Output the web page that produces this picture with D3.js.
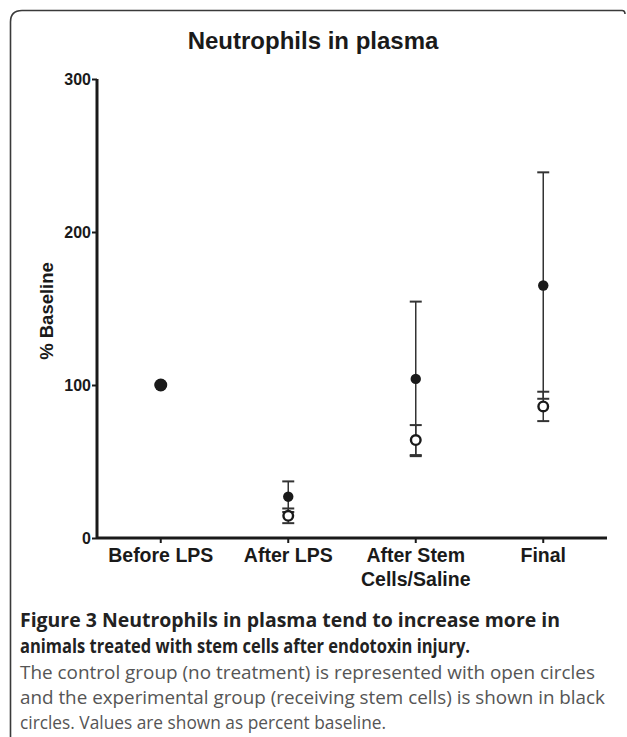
<!DOCTYPE html>
<html>
<head>
<meta charset="utf-8">
<script src="https://cdn.jsdelivr.net/npm/d3@7"></script>
<style>
  body { margin: 0; background: #fff; }
  svg { display: block; }
</style>
</head>
<body>
<svg id="chart" width="627" height="737"></svg>
<script>
// data
var categories = ['Before LPS', 'After LPS', 'After Stem|Cells/Saline', 'Final'];
var stemMean = [100, 27, 104, 165];
var stemSem = [0, 10, 50.5, 74];
var controlMean = [100, 14.5, 64, 86];
var controlSem = [0, 4.8, 9.8, 9.6];
var yTicks = [0, 100, 200, 300];

var captionBold = [
    'Figure 3 Neutrophils in plasma tend to increase more in',
    'animals treated with stem cells after endotoxin injury.'
];
var captionText = [
    'The control group (no treatment) is represented with open circles',
    'and the experimental group (receiving stem cells) is shown in black',
    'circles. Values are shown as percent baseline.'
];

var svg = d3.select('#chart');
var ink = '#1a1a1a';

// frame
svg.append('path')
    .attr('d', 'M 10.5 760 V 22 Q 10.5 10.5 22 10.5 H 622 Q 625 10.5 625 14')
    .attr('fill', 'none')
    .attr('stroke', '#3a3a3a')
    .attr('stroke-width', 1.6);

svg.append('text')
    .attr('x', 313)
    .attr('y', 49)
    .attr('text-anchor', 'middle')
    .attr('font-family', 'Liberation Sans, Arial, sans-serif')
    .attr('font-weight', 'bold')
    .attr('font-size', 24)
    .attr('fill', ink)
    .text('Neutrophils in plasma');

var x = d3.scaleBand()
    .domain(categories)
    .range([97, 607]);

var y = d3.scaleLinear()
    .domain([0, 300])
    .range([538, 79]);

var cx = function(i) { return x(categories[i]) + x.bandwidth() / 2; };

// y axis
var yAxis = svg.append('g')
    .attr('transform', 'translate(97,0)')
    .call(d3.axisLeft(y).tickValues(yTicks).tickSize(5).tickPadding(1));
yAxis.select('.domain').attr('stroke', ink).attr('stroke-width', 3)
    .attr('d', 'M0,' + y(300) + 'V' + y(0));
yAxis.selectAll('line').attr('stroke', ink).attr('stroke-width', 2);
yAxis.selectAll('text')
    .attr('font-family', 'Liberation Sans, Arial, sans-serif')
    .attr('font-weight', 'bold')
    .attr('font-size', 16)
    .attr('fill', ink);

// x axis
var xAxis = svg.append('g')
    .attr('transform', 'translate(0,' + y(0) + ')')
    .call(d3.axisBottom(x).tickSize(5).tickFormat(''));
xAxis.select('.domain').attr('stroke', ink).attr('stroke-width', 3)
    .attr('d', 'M97,0H607');
xAxis.selectAll('line').attr('stroke', ink).attr('stroke-width', 2);

xAxis.selectAll('.tick').append('text')
    .attr('fill', ink)
    .attr('font-family', 'Liberation Sans, Arial, sans-serif')
    .attr('font-weight', 'bold')
    .attr('font-size', 19.5)
    .attr('text-anchor', 'middle')
    .each(function(d) {
        var lines = d.split('|');
        var t = d3.select(this);
        lines.forEach(function(l, k) {
            t.append('tspan').attr('x', 0).attr('y', 24 + k * 24).text(l);
        });
    });

svg.append('text')
    .attr('transform', 'translate(53,311) rotate(-90)')
    .attr('text-anchor', 'middle')
    .attr('font-family', 'Liberation Sans, Arial, sans-serif')
    .attr('font-weight', 'bold')
    .attr('font-size', 18.5)
    .attr('fill', ink)
    .text('% Baseline');

// error bars
function errorBars(mean, sem, cls) {
    var g = svg.append('g').attr('class', cls);
    mean.forEach(function(m, i) {
        if (!sem[i]) return;
        var top = y(m + sem[i]), bot = y(m - sem[i]), c = cx(i);
        g.append('line').attr('x1', c).attr('x2', c).attr('y1', top).attr('y2', bot)
            .attr('stroke', '#333').attr('stroke-width', 1.5);
        [top, bot].forEach(function(v) {
            g.append('line').attr('x1', c - 6).attr('x2', c + 6).attr('y1', v).attr('y2', v)
                .attr('stroke', '#333').attr('stroke-width', 2);
        });
    });
}
errorBars(stemMean, stemSem, 'stem-err');
errorBars(controlMean, controlSem, 'ctrl-err');

svg.append('g').selectAll('circle')
    .data(controlMean)
    .join('circle')
    .attr('cx', function(d, i) { return cx(i); })
    .attr('cy', function(d) { return y(d); })
    .attr('r', 4.8)
    .attr('fill', '#fff')
    .attr('stroke', ink)
    .attr('stroke-width', 2.4);

svg.append('g').selectAll('circle')
    .data(stemMean)
    .join('circle')
    .attr('cx', function(d, i) { return cx(i); })
    .attr('cy', function(d) { return y(d); })
    .attr('r', function(d, i) { return i === 0 ? 6.5 : 5.2; })
    .attr('fill', ink);

// caption
var cap = svg.append('g').attr('font-family', 'Open Sans, sans-serif');
captionBold.forEach(function(t, i) {
    cap.append('text')
        .attr('x', 20)
        .attr('y', 627 + i * 26)
        .attr('font-weight', 'bold')
        .attr('font-size', 19)
        .attr('fill', '#222')
        .attr('textLength', i === 0 ? 540 : 450)
        .attr('lengthAdjust', 'spacingAndGlyphs')
        .text(t);
});
var capLens = [575, 585, 366];
captionText.forEach(function(t, i) {
    cap.append('text')
        .attr('x', 20)
        .attr('y', 679 + i * 25)
        .attr('font-size', 18)
        .attr('fill', '#555')
        .attr('textLength', capLens[i])
        .attr('lengthAdjust', 'spacingAndGlyphs')
        .text(t);
});
</script>
</body>
</html>
